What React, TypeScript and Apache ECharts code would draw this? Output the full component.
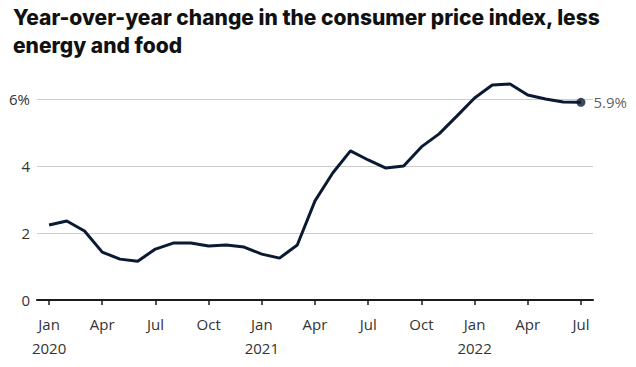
import React, { useEffect, useRef } from "react";
import * as echarts from "echarts";

const months = ["Jan", "Feb", "Mar", "Apr", "May", "Jun", "Jul", "Aug", "Sep", "Oct", "Nov", "Dec"];
const startYear = 2020;
const coreCpi = [
  2.24, 2.36, 2.06, 1.43, 1.22, 1.16, 1.52, 1.7, 1.7, 1.61, 1.64, 1.58,
  1.37, 1.25, 1.64, 2.96, 3.79, 4.45, 4.18, 3.94, 4.0, 4.57, 4.96, 5.49,
  6.03, 6.42, 6.45, 6.12, 6.0, 5.91, 5.9,
];
const tickIdx = [0, 3, 6, 9, 12, 15, 18, 21, 24, 27, 30];
const yTicks = [0, 2, 4, 6];
const endLabel = "5.9%";
const titleText = "Year-over-year change in the consumer price index, less\nenergy and food";
const labelFont = "Open Sans";

export default function App() {
  const ref = useRef<HTMLDivElement>(null);
  useEffect(() => {
    if (!ref.current) return;
    const chart = echarts.init(ref.current, undefined, { renderer: "svg" });
    const data = coreCpi.map((v, i) => [i, v]);
    const last = data.length - 1;
    chart.setOption({
      animation: false,
      title: {
        text: titleText,
        left: 8,
        top: -2,
        textStyle: {
          fontFamily: "Inter",
          fontWeight: 800,
          fontSize: 21,
          lineHeight: 28,
          color: "#111",
        },
      },
      grid: { left: 37, right: 43, top: 99, bottom: 67 },
      xAxis: {
        type: "value",
        min: -0.68,
        max: 30.68,
        splitLine: { show: false },
        axisLine: { show: true, onZero: false, lineStyle: { color: "#1a1a1a", width: 2 } },
        axisTick: {
          show: true,
          customValues: tickIdx,
          length: 5,
          lineStyle: { color: "#1a1a1a", width: 1.5 },
        },
        axisLabel: {
          customValues: tickIdx,
          margin: 12,
          fontFamily: labelFont,
          fontSize: 15,
          lineHeight: 24,
          color: "#333",
          formatter: (v: number) => {
            const i = Math.round(v);
            const m = months[i % 12];
            return i % 12 === 0 ? `${m}\n${startYear + Math.floor(i / 12)}` : m;
          },
        },
      },
      yAxis: {
        type: "value",
        min: 0,
        max: 6,
        interval: 2,
        axisLine: { show: false },
        axisTick: { show: false },
        splitLine: { lineStyle: { color: "#cccccc", width: 1 } },
        axisLabel: {
          margin: 7,
          fontFamily: labelFont,
          fontSize: 15,
          color: "#333",
          formatter: (v: number) => (v === yTicks[yTicks.length - 1] ? `${v}%` : `${v}`),
        },
      },
      series: [
        {
          type: "line",
          data,
          clip: false,
          showSymbol: false,
          symbol: "none",
          lineStyle: { color: "#0b1a33", width: 3 },
          z: 3,
        },
        {
          type: "scatter",
          data: [data[last]],
          clip: false,
          symbol: "circle",
          symbolSize: 9,
          itemStyle: { color: "#0b1a33" },
          label: {
            show: true,
            position: "right",
            distance: 8,
            formatter: endLabel,
            fontFamily: labelFont,
            fontSize: 15,
            color: "#333",
          },
          z: 4,
        },
      ],
    });
    return () => chart.dispose();
  }, []);
  return <div ref={ref} style={{ width: 636, height: 367, margin: -8 }} />;
}
